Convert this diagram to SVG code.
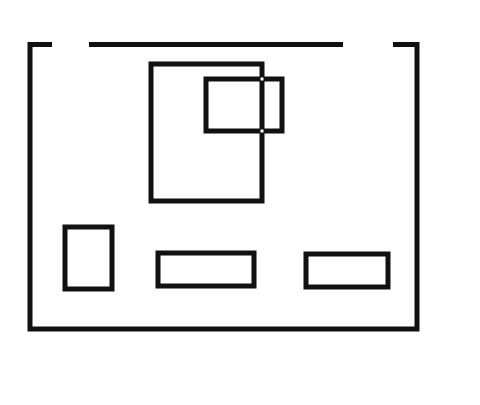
<svg xmlns="http://www.w3.org/2000/svg" width="480" height="405" viewBox="0 0 480 405">
<style>
.s{fill:none;stroke:#111;stroke-width:5;stroke-linecap:butt;stroke-linejoin:miter}
</style>
<rect width="480" height="405" fill="#fff"/>
<g id="frame">
<path class="s" d="M52,44.5 H30 V329 H417 V44.5 H393"/>
<path class="s" d="M89,44.5 H343"/>
</g>
<g id="big-square"><rect class="s" x="151" y="64" width="111" height="137"/></g>
<g id="small-rect"><rect class="s" x="206" y="79" width="76" height="52"/>
<rect x="260.5" y="77.5" width="3" height="3" fill="#fff"/><rect x="260.5" y="129.5" width="3" height="3" fill="#fff"/></g>
<g id="box-a"><rect class="s" x="65" y="227" width="47" height="62"/></g>
<g id="box-b"><rect class="s" x="158" y="253" width="96" height="33"/></g>
<g id="box-c"><rect class="s" x="306" y="254" width="82" height="33"/></g>
<g id="connectors"></g>
</svg>
